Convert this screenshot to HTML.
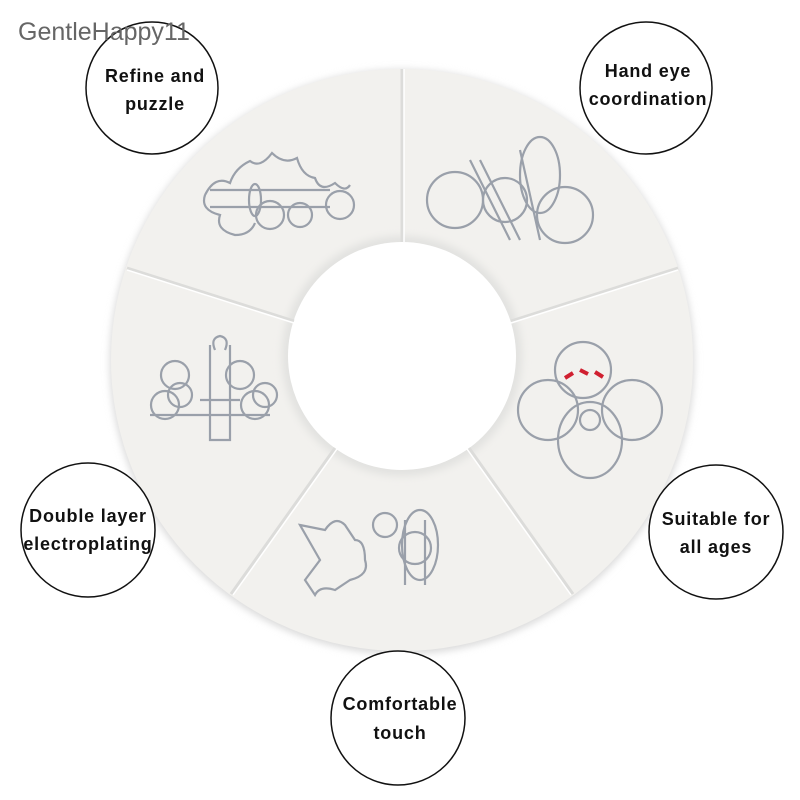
<!DOCTYPE html>
<html><head><meta charset="utf-8"><style>
html,body{margin:0;padding:0;background:#fff;width:800px;height:800px;overflow:hidden}
svg{display:block}
</style></head><body>
<svg width="800" height="800" viewBox="0 0 800 800" xmlns="http://www.w3.org/2000/svg">
<defs>
<filter id="sh" x="-10%" y="-10%" width="120%" height="120%"><feGaussianBlur stdDeviation="4"/></filter>
</defs>
<rect width="800" height="800" fill="#fff"/>
<circle cx="402" cy="362" r="292" fill="#d8d8d8" filter="url(#sh)"/>
<circle cx="402" cy="360" r="291" fill="#f2f1ee"/>
<circle cx="402" cy="356" r="120" fill="#e2e2e0" filter="url(#sh)"/>
<circle cx="402" cy="356" r="114" fill="#fff"/>
<g stroke="#dcdcda" stroke-width="3">
<line x1="402" y1="242" x2="402" y2="69"/>
<line x1="511" y1="321" x2="678" y2="268"/>
<line x1="469" y1="448" x2="573" y2="594"/>
<line x1="335" y1="448" x2="231" y2="594"/>
<line x1="294" y1="321" x2="127" y2="268"/>
</g>
<g stroke="#fff" stroke-width="1.5">
<line x1="404" y1="242" x2="404" y2="69"/>
<line x1="511" y1="323" x2="678" y2="270"/>
<line x1="467" y1="449" x2="571" y2="595"/>
<line x1="337" y1="449" x2="233" y2="595"/>
<line x1="294" y1="323" x2="127" y2="270"/>
</g>
<g fill="none" stroke="#9aa0aa" stroke-width="2.2">
<path d="M205 195 q10-20 25-12 q5-15 20-22 q10 8 22-8 q12 12 25 5 q5 18 18 20 q5 15 20 5 q10 10 15 2 M205 195 q-5 15 15 20 q-5 15 15 20 q15 0 20-12"/>
<line x1="210" y1="190" x2="330" y2="190"/><line x1="210" y1="207" x2="330" y2="207"/>
<circle cx="270" cy="215" r="14"/><circle cx="300" cy="215" r="12"/><circle cx="340" cy="205" r="14"/><ellipse cx="255" cy="200" rx="6" ry="16"/>
<circle cx="455" cy="200" r="28"/><circle cx="565" cy="215" r="28"/><circle cx="505" cy="200" r="22"/><ellipse cx="540" cy="175" rx="20" ry="38"/>
<path d="M470 160 l40 80 M480 160 l40 80 M520 150 l20 90"/>
<circle cx="583" cy="370" r="28"/><circle cx="548" cy="410" r="30"/><circle cx="632" cy="410" r="30"/><ellipse cx="590" cy="440" rx="32" ry="38"/>
<circle cx="590" cy="420" r="10"/>
<path d="M210 345 v95 h20 v-95 M215 350 q-5-12 5-14 q10 2 5 14"/>
<circle cx="175" cy="375" r="14"/><circle cx="240" cy="375" r="14"/><circle cx="165" cy="405" r="14"/><circle cx="255" cy="405" r="14"/><circle cx="180" cy="395" r="12"/><circle cx="265" cy="395" r="12"/>
<path d="M150 415 h120 M200 400 h40"/>
<path d="M300 525 l25 5 q10-15 20-5 l10 15 q10 0 10 20 q5 15-15 20 l-15 10 q-15-5-20 5 l-10-15 l15-20 z"/>
<ellipse cx="420" cy="545" rx="18" ry="35"/><circle cx="415" cy="548" r="16"/><circle cx="385" cy="525" r="12"/>
<path d="M405 520 v65 M425 520 v65"/>
</g>
<g fill="none" stroke="#d02030" stroke-width="4"><path d="M565 378 l8-5 M580 370 l8 4 M595 372 l8 5"/></g>
<g fill="#fff" stroke="#111" stroke-width="1.5">
<circle cx="152" cy="88" r="66"/>
<circle cx="646" cy="88" r="66"/>
<circle cx="88" cy="530" r="67"/>
<circle cx="716" cy="532" r="67"/>
<circle cx="398" cy="718" r="67"/>
</g>
<text x="18" y="40" font-family="Liberation Sans, sans-serif" font-size="25" fill="#666">GentleHappy11</text>
<g font-family="Liberation Sans, sans-serif" font-weight="bold" font-size="18" fill="#111" text-anchor="middle" letter-spacing="0.8">
<text x="155" y="82">Refine and</text><text x="155" y="110">puzzle</text>
<text x="648" y="77">Hand eye</text><text x="648" y="105">coordination</text>
<text x="88" y="522">Double layer</text><text x="88" y="550">electroplating</text>
<text x="716" y="525">Suitable for</text><text x="716" y="553">all ages</text>
<text x="400" y="710">Comfortable</text><text x="400" y="739">touch</text>
</g>
</svg>
</body></html>
